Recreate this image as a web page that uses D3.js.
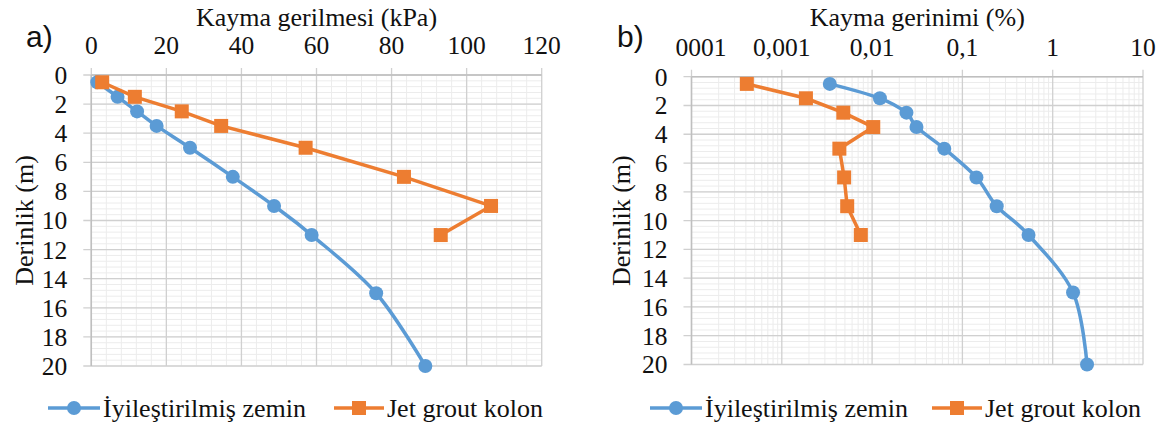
<!DOCTYPE html>
<html><head><meta charset="utf-8">
<script src="https://cdn.jsdelivr.net/npm/d3@7"></script>
<style>body{margin:0;background:#fff} svg{display:block}</style>
</head><body><svg id="c" width="1163" height="425"></svg>
<script>
// ---- data ----
const depthsSoil = [0.5, 1.5, 2.5, 3.5, 5, 7, 9, 11, 15, 20];
const depthsJet  = [0.5, 1.5, 2.5, 3.5, 5, 7, 9, 11];
const stressSoil = [1.6, 7.0, 12.2, 17.4, 26.3, 37.7, 48.7, 58.7, 75.9, 89.0];
const stressJet  = [2.9, 11.6, 24.1, 34.6, 57.1, 83.3, 106.5, 93.1];
const strainSoil = [0.0034, 0.0122, 0.024, 0.031, 0.063, 0.143, 0.24, 0.54, 1.68, 2.4];
const strainJet  = [0.00041, 0.00185, 0.0048, 0.0103, 0.00434, 0.0049, 0.0053, 0.0075];
const depthTicks = [0, 2, 4, 6, 8, 10, 12, 14, 16, 18, 20];
const stressTicks = [0, 20, 40, 60, 80, 100, 120];
const strainTicks = [0.0001, 0.001, 0.01, 0.1, 1, 10];
const strainTickLabels = ["0,0001", "0,001", "0,01", "0,1", "1", "10"];
const seriesNames = ["İyileştirilmiş zemin", "Jet grout kolon"];
const panelLabels = ["a)", "b)"];
const xTitles = ["Kayma gerilmesi (kPa)", "Kayma gerinimi (%)"];
const yTitle = "Derinlik (m)";

const BLUE = "#5B9BD5", ORANGE = "#ED7D31";
const SERIF = "'Liberation Serif','Times New Roman',serif";
const svg = d3.select("#c");
const MR = 7, SQ = 14, LW = 3.5;

function panel(cfg) {
  const g = svg.append("g");
  const x = cfg.x, y = cfg.y;
  const [L, R] = x.range(), [T, B] = y.range();

  // minor grid
  g.append("g").selectAll("line").data(cfg.minorX).join("line")
    .attr("x1", d => x(d)).attr("x2", d => x(d)).attr("y1", T).attr("y2", B)
    .attr("stroke", "#ececec").attr("stroke-width", 1);
  g.append("g").selectAll("line").data(d3.range(0, 20.001, 0.4)).join("line")
    .attr("x1", L).attr("x2", R).attr("y1", d => y(d)).attr("y2", d => y(d))
    .attr("stroke", "#ececec").attr("stroke-width", 1);
  // major grid
  g.append("g").selectAll("line").data(cfg.ticks).join("line")
    .attr("x1", d => x(d)).attr("x2", d => x(d)).attr("y1", T - 7).attr("y2", B)
    .attr("stroke", "#d0d0d0").attr("stroke-width", 1.3);
  g.append("g").selectAll("line").data(depthTicks).join("line")
    .attr("x1", L - 8).attr("x2", R).attr("y1", d => y(d)).attr("y2", d => y(d))
    .attr("stroke", "#d0d0d0").attr("stroke-width", 1.3);
  // axis lines
  g.append("line").attr("x1", L).attr("x2", L).attr("y1", T).attr("y2", B)
    .attr("stroke", "#bfbfbf").attr("stroke-width", 1.5);
  g.append("line").attr("x1", L).attr("x2", R).attr("y1", T).attr("y2", T)
    .attr("stroke", "#bfbfbf").attr("stroke-width", 1.5);

  // tick labels
  const clipId = "clip" + cfg.idx;
  svg.append("clipPath").attr("id", clipId).append("rect")
    .attr("x", cfg.clipLeft).attr("y", 0).attr("width", 1163).attr("height", 425);
  g.append("g").attr("clip-path", `url(#${clipId})`)
    .selectAll("text").data(cfg.ticks).join("text")
    .attr("x", d => x(d)).attr("y", T - 21)
    .attr("text-anchor", "middle").attr("font-family", SERIF).attr("font-size", 25.5)
    .attr("fill", "#111").text((d, i) => cfg.tickLabels[i]);
  g.append("g").selectAll("text").data(depthTicks).join("text")
    .attr("x", L - 24).attr("y", d => y(d)).attr("dy", "0.35em")
    .attr("text-anchor", "end").attr("font-family", SERIF).attr("font-size", 25.5)
    .attr("fill", "#111").text(d => d);

  // titles
  g.append("text").attr("x", (L + R) / 2).attr("y", 26)
    .attr("text-anchor", "middle").attr("font-family", SERIF).attr("font-size", 26)
    .attr("fill", "#111").text(xTitles[cfg.idx]);
  g.append("text").attr("transform", `translate(${cfg.yTitleX},${(T + B) / 2}) rotate(-90)`)
    .attr("dy", "0.35em")
    .attr("text-anchor", "middle").attr("font-family", SERIF).attr("font-size", 26)
    .attr("fill", "#111").text(yTitle);
  g.append("text").attr("x", cfg.labelX).attr("y", 47)
    .attr("font-family", "'Liberation Sans',Arial,sans-serif").attr("font-size", 30)
    .attr("fill", "#111").text(panelLabels[cfg.idx]);

  // series
  const soil = cfg.soil.map((v, i) => [v, depthsSoil[i]]);
  const jet = cfg.jet.map((v, i) => [v, depthsJet[i]]);
  g.append("path").datum(soil)
    .attr("d", d3.line().x(d => x(d[0])).y(d => y(d[1])).curve(d3.curveCatmullRom.alpha(0)))
    .attr("fill", "none").attr("stroke", BLUE).attr("stroke-width", LW);
  g.append("g").selectAll("circle").data(soil).join("circle")
    .attr("cx", d => x(d[0])).attr("cy", d => y(d[1])).attr("r", MR).attr("fill", BLUE);
  g.append("path").datum(jet)
    .attr("d", d3.line().x(d => x(d[0])).y(d => y(d[1])))
    .attr("fill", "none").attr("stroke", ORANGE).attr("stroke-width", LW);
  g.append("g").selectAll("rect").data(jet).join("rect")
    .attr("x", d => x(d[0]) - SQ / 2).attr("y", d => y(d[1]) - SQ / 2)
    .attr("width", SQ).attr("height", SQ).attr("fill", ORANGE);

  // legend
  const ly = 408;
  const lg = g.append("g");
  const l0 = cfg.legendX[0], l1 = cfg.legendX[1];
  lg.append("line").attr("x1", l0).attr("x2", l0 + 52).attr("y1", ly).attr("y2", ly)
    .attr("stroke", BLUE).attr("stroke-width", LW);
  lg.append("circle").attr("cx", l0 + 26).attr("cy", ly).attr("r", MR).attr("fill", BLUE);
  lg.append("text").attr("x", l0 + 55).attr("y", ly).attr("dy", "0.33em")
    .attr("font-family", SERIF).attr("font-size", 26).attr("fill", "#111").text(seriesNames[0]);
  lg.append("line").attr("x1", l1).attr("x2", l1 + 50).attr("y1", ly).attr("y2", ly)
    .attr("stroke", ORANGE).attr("stroke-width", LW);
  lg.append("rect").attr("x", l1 + 25 - SQ / 2).attr("y", ly - SQ / 2).attr("width", SQ).attr("height", SQ).attr("fill", ORANGE);
  lg.append("text").attr("x", l1 + 53).attr("y", ly).attr("dy", "0.33em")
    .attr("font-family", SERIF).attr("font-size", 26).attr("fill", "#111").text(seriesNames[1]);
}

// Panel a
const xa = d3.scaleLinear().domain([0, 120]).range([91.3, 541.7]);
const ya = d3.scaleLinear().domain([0, 20]).range([75, 366]);
panel({
  idx: 0, x: xa, y: ya, ticks: stressTicks, tickLabels: stressTicks.map(String),
  minorX: d3.range(0, 120.001, 4), clipLeft: 0, soil: stressSoil, jet: stressJet,
  yTitleX: 24, labelX: 26, legendX: [48, 334]
});

// Panel b
const xb = d3.scaleLog().domain([0.0001, 10]).range([691.5, 1143]);
const yb = d3.scaleLinear().domain([0, 20]).range([76.7, 364.5]);
const logMinor = [];
strainTicks.slice(0, -1).forEach(t => { for (let m = 2; m <= 9; m++) logMinor.push(t * m); });
panel({
  idx: 1, x: xb, y: yb, ticks: strainTicks, tickLabels: strainTickLabels,
  minorX: logMinor, clipLeft: 676, soil: strainSoil, jet: strainJet,
  yTitleX: 621, labelX: 617, legendX: [650, 932]
});
</script></body></html>
